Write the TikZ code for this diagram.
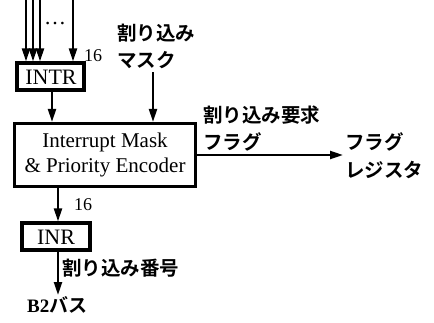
\documentclass[tikz,border=0pt]{standalone}
\usepackage{fontspec}
\setmainfont{Liberation Serif}
\newfontfamily\jp{Noto Sans CJK JP}[BoldFont=* Bold]
\usetikzlibrary{arrows.meta}
\begin{document}
\begin{tikzpicture}[x=1pt,y=-1pt,
  box/.style={draw,line width=3.2pt,inner sep=0pt},
  wire/.style={line width=2.2pt,-{Triangle[length=13pt,width=8pt]}},
  jtxt/.style={font=\jp\bfseries\fontsize{19.5}{19.5}\selectfont,inner sep=0pt,anchor=west},
  etxt/.style={font=\fontsize{21}{21}\selectfont,inner sep=0pt},
  num/.style={font=\fontsize{18}{18}\selectfont,inner sep=0pt}]
\useasboundingbox (0,0) rectangle (434,322);
% boxes
\node[box,minimum width=67pt,minimum height=27pt] (intr) at (50.5,76.5) {};
\node[etxt,font=\fontsize{22}{22}\selectfont] (intrt) at (51,77) {INTR};
\node[box,minimum width=181pt,minimum height=63pt] (enc) at (105,155) {};
\node[etxt] (enc1) at (105,142) {Interrupt Mask};
\node[etxt] (enc2) at (105,167) {\& Priority Encoder};
\node[box,minimum width=68pt,minimum height=27pt] (inr) at (56,236.5) {};
\node[etxt,font=\fontsize{22}{22}\selectfont] (inrt) at (56,237) {INR};
% input lines
\coordinate (i1) at (26,0);
\coordinate (i2) at (33,0);
\coordinate (i3) at (40,0);
\coordinate (i4) at (73,0);
\draw[wire] (i1) -- (i1 |- intr.north);
\draw[wire] (i2) -- (i2 |- intr.north);
\draw[wire] (i3) -- (i3 |- intr.north);
\draw[wire] (i4) -- (i4 |- intr.north);
\node[etxt,font=\fontsize{22}{22}\selectfont] (dots) at (55,24) {\dots};
\node[num] (n16a) at (93,56) {16};
% mask
\node[jtxt] (mask1) at (117,33) {割り込み};
\node[jtxt] (mask2) at (117,60) {マスク};
\coordinate (m0) at (153,72);
\draw[wire] (m0) -- (m0 |- enc.north);
% intr -> enc
\coordinate (c1) at (52,0);
\draw[wire] (c1 |- intr.south) -- (c1 |- enc.north);
% flag output
\node[jtxt] (req1) at (203,115) {割り込み要求};
\node[jtxt] (req2) at (203,142) {フラグ};
\coordinate (f1) at (343,155);
\draw[wire] (enc.east |- f1) -- (f1);
\node[jtxt] (reg1) at (345,142) {フラグ};
\node[jtxt] (reg2) at (345,170) {レジスタ};
% enc -> inr
\coordinate (c2) at (58,0);
\draw[wire] (c2 |- enc.south) -- (c2 |- inr.north);
\node[num] (n16b) at (83,205) {16};
% inr -> bus
\coordinate (b0) at (58,295);
\draw[wire] (c2 |- inr.south) -- (b0);
\node[jtxt] (num1) at (62,268) {割り込み番号};
\node[jtxt] (bus) at (27,305) {\rmfamily\bfseries\fontsize{19}{19}\selectfont B2\jp\bfseries バス};
\end{tikzpicture}
\end{document}
